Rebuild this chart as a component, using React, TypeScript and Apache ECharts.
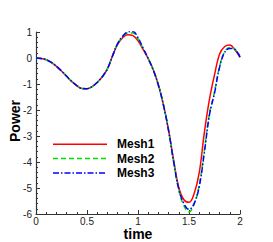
import React, { useEffect, useRef } from "react";
import * as echarts from "echarts";

const times = [
  0, 0.05, 0.1, 0.15, 0.2, 0.25, 0.3, 0.35, 0.4, 0.45,
  0.5, 0.55, 0.6, 0.65, 0.7, 0.75, 0.8, 0.85, 0.9, 0.95,
  1.0, 1.05, 1.1, 1.15, 1.2, 1.25, 1.3, 1.35, 1.4, 1.45,
  1.5, 1.55, 1.6, 1.65, 1.7, 1.75, 1.8, 1.85, 1.9, 1.95, 2.0,
];

const mesh1 = [
  0, -0.02, -0.07, -0.17, -0.32, -0.5, -0.7, -0.9, -1.06, -1.17,
  -1.18, -1.1, -0.94, -0.72, -0.42, 0.08, 0.52, 0.78, 0.89, 0.86,
  0.66, 0.33, -0.02, -0.45, -1.03, -1.8, -2.77, -3.95, -4.98, -5.45,
  -5.55, -5.22, -4.42, -2.88, -1.6, -0.65, 0.15, 0.44, 0.5, 0.32, 0.02,
];

const mesh2 = [
  0, -0.02, -0.07, -0.17, -0.32, -0.5, -0.7, -0.9, -1.06, -1.17,
  -1.18, -1.1, -0.94, -0.72, -0.42, 0.08, 0.54, 0.82, 0.96, 0.96,
  0.74, 0.36, -0.02, -0.46, -1.04, -1.82, -2.8, -4.0, -5.08, -5.68,
  -5.92, -5.62, -4.9, -3.55, -2.15, -1.3, -0.32, 0.24, 0.4, 0.34, 0.04,
];

const mesh3 = [
  0, -0.02, -0.07, -0.17, -0.32, -0.5, -0.7, -0.9, -1.06, -1.17,
  -1.18, -1.1, -0.94, -0.72, -0.42, 0.08, 0.55, 0.84, 1.0, 1.02,
  0.78, 0.38, -0.02, -0.47, -1.05, -1.82, -2.8, -4.0, -5.05, -5.6,
  -5.82, -5.6, -4.95, -3.65, -2.2, -1.35, -0.35, 0.22, 0.37, 0.33, 0.04,
];

const seriesNames = ["Mesh1", "Mesh2", "Mesh3"];
const seriesValues = [mesh1, mesh2, mesh3];
const seriesColors = ["#ff0000", "#00dd00", "#0000ff"];
const seriesDash: any[] = ["solid", [5, 3], [6, 2, 1.5, 2]];

const FONT = "Arial, Liberation Sans, sans-serif";

export default function App() {
  const ref = useRef<HTMLDivElement>(null);
  useEffect(() => {
    if (!ref.current) return;
    const chart = echarts.init(ref.current, null, { renderer: "svg" });
    const axisCommon = {
      axisLine: { show: true, onZero: false, lineStyle: { color: "#333", width: 1.2 } },
      axisTick: { show: true, inside: true, length: 4, lineStyle: { color: "#333", width: 1 } },
      minorTick: { show: true, splitNumber: 5, length: 2, lineStyle: { color: "#333", width: 1 } },
      splitLine: { show: false },
      axisLabel: { color: "#222", fontSize: 10, fontFamily: FONT },
      nameTextStyle: { color: "#000", fontSize: 14, fontWeight: "bold", fontFamily: FONT },
      nameMoveOverlap: false,
    };
    const legendX0 = 53;
    const legendX1 = 107;
    const legendY0 = 144.3;
    const legendStep = 14.3;
    const legendGraphics: any[] = [];
    seriesNames.forEach((name, i) => {
      const y = legendY0 + i * legendStep;
      legendGraphics.push({
        type: "line",
        shape: { x1: legendX0, y1: y, x2: legendX1, y2: y },
        style: { stroke: seriesColors[i], lineWidth: 1.5, lineDash: seriesDash[i] === "solid" ? null : seriesDash[i] },
        z: 10,
      });
      legendGraphics.push({
        type: "text",
        x: 117,
        y,
        style: { text: name, fill: "#000", font: `bold 12px ${FONT}`, verticalAlign: "middle" },
        z: 10,
      });
    });
    chart.setOption({
      animation: false,
      backgroundColor: "#fff",
      grid: { left: 36, right: 33, top: 32, bottom: 28, containLabel: false, outerBoundsMode: "none" },
      xAxis: {
        type: "value",
        min: 0,
        max: 2,
        interval: 0.5,
        name: "time",
        nameLocation: "middle",
        nameGap: 14,
        ...axisCommon,
        nameTextStyle: { ...axisCommon.nameTextStyle, lineHeight: 12 },
        axisLabel: { ...axisCommon.axisLabel, margin: 2, lineHeight: 10, formatter: (v: number) => String(v) },
      },
      yAxis: {
        type: "value",
        min: -6,
        max: 1,
        interval: 1,
        name: "Power",
        nameLocation: "middle",
        nameGap: 14,
        ...axisCommon,
        nameTextStyle: { ...axisCommon.nameTextStyle, padding: [0, 0, 0, 4] },
        axisLabel: { ...axisCommon.axisLabel, margin: 4 },
      },
      graphic: legendGraphics,
      series: seriesNames.map((name, i) => ({
        name,
        type: "line",
        data: times.map((t, j) => [t, seriesValues[i][j]]),
        smooth: 0.4,
        symbol: "none",
        showSymbol: false,
        lineStyle: { color: seriesColors[i], width: 1.5, type: seriesDash[i] },
        itemStyle: { color: seriesColors[i] },
        z: 2 + i,
      })),
    });
    return () => chart.dispose();
  }, []);
  return <div ref={ref} style={{ width: 273, height: 242, position: "absolute", left: 0, top: 0 }} />;
}
